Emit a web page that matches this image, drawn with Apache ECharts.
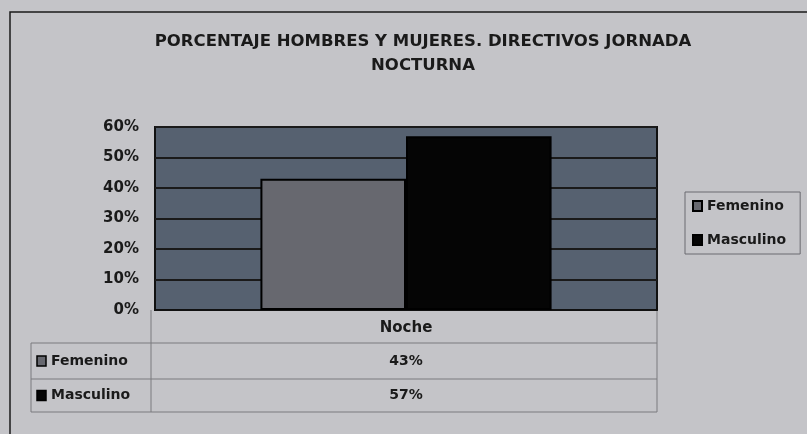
<!DOCTYPE html>
<html>
<head>
<meta charset="utf-8">
<script src="https://cdn.jsdelivr.net/npm/echarts@6/dist/echarts.min.js"></script>
<style>
html,body{margin:0;padding:0;background:#c4c4c8;}
#chart{width:807px;height:434px;}
</style>
</head>
<body>
<div id="chart"></div>
<script>
// datos del grafico
const categories = ['Noche'];
const seriesNames = ['Femenino', 'Masculino'];
const femenino = [0.43];
const masculino = [0.57];
const chartTitle = 'PORCENTAJE HOMBRES Y MUJERES. DIRECTIVOS JORNADA\nNOCTURNA';

const colors = ['#67686f', '#050505'];
const font = '"DejaVu Sans", sans-serif';
const ink = '#1a1a1a';
const pct = v => Math.round(v * 100) + '%';

// tabla de datos bajo el eje (como en Excel)
const tableRows = [femenino, masculino];
const tableGraphic = [];
const rowY = [343, 379, 412];
rowY.forEach(y => {
    tableGraphic.push({type: 'line', shape: {x1: 31, y1: y, x2: 657, y2: y}, style: {stroke: '#7a7a7e', lineWidth: 1}});
});
tableGraphic.push({type: 'line', shape: {x1: 31, y1: 343, x2: 31, y2: 412}, style: {stroke: '#7a7a7e', lineWidth: 1}});
tableGraphic.push({type: 'line', shape: {x1: 151, y1: 310, x2: 151, y2: 412}, style: {stroke: '#7a7a7e', lineWidth: 1}});
tableGraphic.push({type: 'line', shape: {x1: 657, y1: 310, x2: 657, y2: 412}, style: {stroke: '#7a7a7e', lineWidth: 1}});
tableRows.forEach((row, i) => {
    const cy = (rowY[i] + rowY[i + 1]) / 2;
    tableGraphic.push({type: 'rect', shape: {x: 37, y: cy - 5, width: 9, height: 10}, style: {fill: colors[i], stroke: '#000', lineWidth: 1.5}});
    tableGraphic.push({type: 'text', x: 51, y: cy, style: {text: seriesNames[i], font: 'bold 14px ' + font, fill: ink, verticalAlign: 'middle'}});
    row.forEach((v, j) => {
        tableGraphic.push({type: 'text', x: 406, y: cy, style: {text: pct(v), font: 'bold 14px ' + font, fill: ink, align: 'center', verticalAlign: 'middle'}});
    });
});

const chart = echarts.init(document.getElementById('chart'));
chart.setOption({
    backgroundColor: '#c4c4c8',
    animation: false,
    title: {
        text: chartTitle,
        left: 418,
        textAlign: 'center',
        top: 25,
        textStyle: {fontFamily: font, fontSize: 16.5, fontWeight: 'bold', color: ink, lineHeight: 24}
    },
    legend: {
        data: seriesNames,
        orient: 'vertical',
        left: 685,
        top: 192,
        icon: 'rect',
        itemWidth: 9,
        itemHeight: 10,
        itemGap: 20,
        padding: [7, 14, 7, 7],
        borderColor: '#6a6a70',
        borderWidth: 1,
        textStyle: {fontFamily: font, fontSize: 14, fontWeight: 'bold', color: ink}
    },
    grid: {
        left: 155,
        right: 150,
        top: 127,
        bottom: 124,
        show: true,
        backgroundColor: '#566170',
        borderColor: '#111',
        borderWidth: 2
    },
    xAxis: {
        type: 'category',
        data: categories,
        axisTick: {show: false},
        axisLine: {show: true, lineStyle: {color: '#111', width: 2}},
        axisLabel: {margin: 11, fontFamily: font, fontSize: 15, fontWeight: 'bold', color: ink}
    },
    yAxis: {
        type: 'value',
        min: 0,
        max: 0.6,
        interval: 0.1,
        axisLine: {show: false},
        axisTick: {show: false},
        splitLine: {lineStyle: {color: '#1a1a1a', width: 2}},
        axisLabel: {margin: 16, fontFamily: font, fontSize: 15, fontWeight: 'bold', color: ink, formatter: pct}
    },
    series: [
        {
            name: seriesNames[0],
            type: 'bar',
            data: femenino,
            barGap: 0,
            barCategoryGap: '42%',
            itemStyle: {color: colors[0], borderColor: '#000', borderWidth: 2}
        },
        {
            name: seriesNames[1],
            type: 'bar',
            data: masculino,
            barGap: 0,
            barCategoryGap: '42%',
            itemStyle: {color: colors[1], borderColor: '#000', borderWidth: 2}
        }
    ],
    graphic: [
        {type: 'rect', shape: {x: 10, y: 12, width: 820, height: 440}, style: {fill: null, stroke: '#1a1a1a', lineWidth: 1.5}, silent: true}
    ].concat(tableGraphic)
});
</script>
</body>
</html>
